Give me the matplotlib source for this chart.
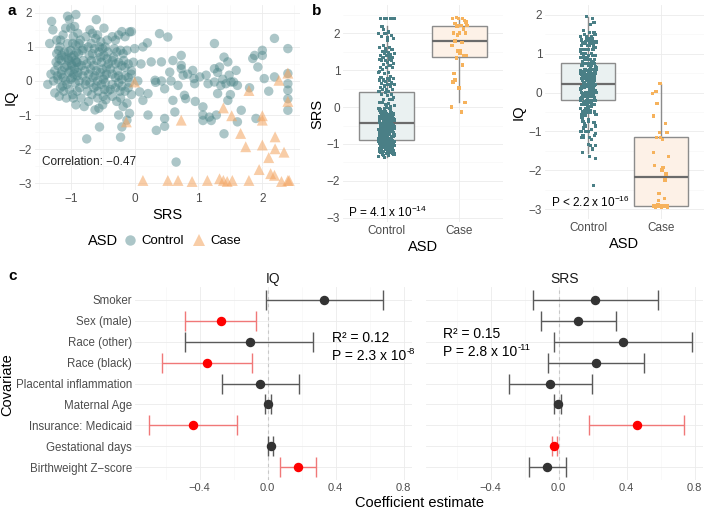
import matplotlib
matplotlib.use("Agg")
import matplotlib.pyplot as plt
import numpy as np
from matplotlib.lines import Line2D
from matplotlib.ticker import MultipleLocator

plt.rcParams['font.family'] = ['Liberation Sans', 'DejaVu Sans']
plt.rcParams['mathtext.fontset'] = 'custom'
plt.rcParams['mathtext.rm'] = 'Liberation Sans'
plt.rcParams['mathtext.it'] = 'Liberation Sans:italic'
plt.rcParams['mathtext.bf'] = 'Liberation Sans:bold'

# ---------------- data ----------------
# control subjects (SRS, IQ)
control_low = [(-1.33,1.1),(-1.3,1.75),(-1.28,1.5),(-1.25,0.3),(-1.25,-0.35),(-1.22,1.2),(-1.22,0.8),(-1.2,0.45),
    (-1.2,0.05),(-1.18,-0.45),(-1.17,1.0),(-1.15,0.6),(-1.15,0.2),(-1.13,-0.15),(-1.12,1.35),(-1.1,0.85),(-1.1,0.4),
    (-1.08,0.0),(-1.07,-0.5),(-1.05,1.9),(-1.05,1.1),(-1.04,0.65),(-1.03,0.25),(-1.02,-0.25),(-1.0,1.55),(-1.0,0.9),
    (-0.99,0.5),(-0.98,0.1),(-0.97,-0.4),(-0.96,1.3),(-0.95,0.75),(-0.94,0.35),(-0.93,-0.05),(-0.92,1.95),(-0.92,1.05),
    (-0.91,0.55),(-0.9,0.15),(-0.9,-0.3),(-0.89,1.4),(-0.88,0.8),(-0.88,0.4),(-0.87,0.0),(-1.27,0.0),(-1.23,0.55),
    (-1.19,0.9),(-1.16,1.2),(-1.14,0.3),(-1.11,-0.3),(-1.09,0.7),(-1.06,0.45),(-1.04,0.85),(-1.01,0.3),(-0.99,0.7),
    (-0.97,1.1),(-0.95,0.2),(-0.93,0.6),(-0.91,0.85),(-0.89,0.25),(-1.02,1.8),(-0.96,-0.5),(-1.21,0.15),(-1.16,-0.2),
    (-1.31,0.2),(-1.18,0.65),(-1.08,1.55),(-0.94,1.6),(-1.06,-0.1),(-0.98,0.45),(-1.12,0.1),(-1.0,0.05),(-0.9,0.55),
    (-1.03,0.6),(-0.92,-0.7),(-1.14,0.75),(-0.87,1.1),(-1.36,-0.1),(-0.75,-1.7)]
control_mid = [(-0.85,1.2),(-0.82,0.9),(-0.8,0.6),(-0.78,0.3),(-0.76,0.0),(-0.74,-0.3),(-0.72,-0.6),(-0.7,1.5),
    (-0.68,1.1),(-0.66,0.8),(-0.64,0.45),(-0.62,0.15),(-0.6,-0.15),(-0.58,-0.5),(-0.56,-0.8),(-0.6,1.8),(-0.58,1.35),
    (-0.55,1.0),(-0.53,0.7),(-0.51,0.35),(-0.49,0.05),(-0.47,-0.25),(-0.45,-0.55),(-0.43,1.2),(-0.42,0.85),(-0.41,0.5),
    (-0.44,0.2),(-0.46,-0.05),(-0.48,1.55),(-0.5,0.95),(-0.52,0.55),(-0.54,0.25),(-0.57,-0.3),(-0.59,0.6),(-0.61,1.25),
    (-0.63,0.95),(-0.65,0.1),(-0.67,-0.4),(-0.69,0.35),(-0.71,0.75),(-0.73,1.0),(-0.75,0.5),(-0.77,-0.1),(-0.79,-0.75),
    (-0.81,0.15),(-0.83,0.45),(-0.86,-0.2),(-0.55,-1.35),(-0.62,-0.85),(-0.48,0.75),(-0.44,0.4),(-0.5,-0.7),(-0.66,1.4),
    (-0.58,0.0),(-0.53,1.15),(-0.47,0.15),(-0.72,0.2),(-0.64,-0.2),(-0.56,0.85),(-0.42,-0.3),(-0.46,1.0),(-0.68,0.6),
    (-0.8,0.95),(-0.84,-0.5),(-0.6,0.3),(-0.52,-0.1),(-0.7,-0.05),(-0.76,1.3),(-0.43,0.65),(-0.49,-0.45)]
control_near = [(-0.35,1.3),(-0.3,1.2),(-0.25,1.35),(-0.2,1.45),(-0.15,1.3),(-0.32,0.95),(-0.28,0.85),(-0.22,0.9),
    (-0.18,0.8),(-0.12,0.9),(-0.05,1.45),(-0.35,0.6),(-0.3,0.5),(-0.25,0.55),(-0.2,0.45),(-0.15,0.4),(-0.1,0.5),
    (-0.05,0.3),(-0.35,0.2),(-0.3,0.1),(-0.25,0.15),(-0.2,0.05),(-0.15,0.15),(-0.1,0.1),(-0.05,0.2),(-0.35,-0.1),
    (-0.3,-0.2),(-0.25,-0.05),(-0.2,-0.15),(-0.15,-0.3),(-0.1,-0.2),(-0.05,-0.4),(-0.35,-0.45),(-0.28,-0.6),
    (-0.22,-0.5),(-0.18,-0.75),(-0.12,-0.65),(-0.08,-0.95),(-0.25,-1.0),(-0.2,-1.35),(-0.22,-1.65),(-0.12,-1.15),
    (-0.38,0.35),(-0.38,-0.25),(-0.33,0.7),(-0.27,0.3),(-0.23,-0.3),(-0.17,0.6),(-0.02,0.55),(-0.08,-0.05)]
control_high = [(0.0,0.95),(-0.08,1.44),(0.05,0.0),(0.1,0.5),(0.13,1.0),(0.2,1.12),(0.08,-0.32),(0.13,-0.57),
    (0.21,-0.37),(0.21,-1.0),(0.26,0.56),(0.32,0.02),(0.33,-0.04),(0.34,-1.45),(0.39,1.39),(0.42,0.56),(0.42,0.0),
    (0.47,-0.23),(0.47,-1.1),(0.47,-1.33),(0.52,1.29),(0.55,0.26),(0.57,0.0),(0.6,-0.57),(0.6,0.6),(0.63,-0.91),
    (0.65,-2.38),(0.68,-0.13),(0.73,0.46),(0.73,0.36),(0.73,0.75),(0.76,0.17),(0.78,-0.42),(0.8,-0.52),(0.83,0.2),
    (0.91,0.31),(0.93,0.07),(0.94,-0.08),(1.02,0.12),(1.07,-0.76),(1.07,-1.0),(1.07,-1.16),(1.12,0.17),(1.15,-0.08),
    (1.17,-1.06),(1.2,-1.16),(1.25,1.1),(1.25,0.36),(1.25,-0.03),(1.28,-1.0),(1.3,-0.37),(1.33,0.41),(1.35,-0.13),
    (1.4,0.7),(1.4,-1.55),(1.43,-0.08),(1.46,0.56),(1.46,-0.57),(1.48,0.17),(1.51,-0.03),(1.55,-0.03),(1.59,0.31),
    (1.61,-0.13),(1.61,-1.2),(1.67,-0.86),(1.85,0.66),(1.88,0.75),(1.9,-1.1),(1.93,0.41),(2.0,0.75),(2.0,0.9),
    (2.03,0.07),(2.19,1.25),(2.4,0.95),(2.4,0.22),(2.4,-0.08),(2.4,-0.27),(2.4,-0.52),(2.4,-0.86),(1.8,-0.2),
    (2.19,0.12),(1.3,0.25),(1.5,-0.4),(0.95,-0.6),(1.38,0.05),(2.1,-0.3)]
control_points = control_low + control_mid + control_near + control_high

# ASD cases (SRS, IQ)
case_points = [(0.0,-0.03),(-0.13,-1.2),(0.73,-1.15),(0.13,-2.92),(0.52,-2.92),(0.68,-2.92),(1.14,-2.92),
    (1.33,-2.87),(1.39,-2.92),(1.53,-2.92),(1.79,-2.92),(1.39,-0.79),(1.52,-1.02),(1.66,-1.54),(1.74,-1.93),
    (1.79,-0.28),(2.0,-1.02),(2.0,-1.15),(2.0,-1.88),(2.13,-2.72),(2.19,-2.77),(2.2,-1.64),(2.2,-1.99),
    (2.26,0.02),(2.34,-2.09),(2.4,0.23),(2.4,-0.6),(2.4,-2.92),(2.42,-2.92),(2.3,-2.95),(1.45,-2.95),
    (0.9,-2.95),(2.1,-2.25),(1.95,-2.6)]

covariates = ["Smoker", "Sex (male)", "Race (other)", "Race (black)", "Placental inflammation",
              "Maternal Age", "Insurance: Medicaid", "Gestational days", "Birthweight Z\u2212score"]
iq_est = [0.333, -0.276, -0.105, -0.358, -0.042, 0.004, -0.438, 0.019, 0.180]
iq_lo  = [-0.010, -0.484, -0.484, -0.620, -0.270, -0.015, -0.700, 0.000, 0.076]
iq_hi  = [0.680, -0.067, 0.270, -0.090, 0.187, 0.020, -0.177, 0.030, 0.286]
iq_sig = [0, 1, 0, 1, 0, 0, 1, 0, 1]
srs_est = [0.216, 0.116, 0.380, 0.220, -0.050, -0.006, 0.460, -0.024, -0.066]
srs_lo  = [-0.150, -0.104, -0.024, -0.060, -0.290, -0.026, 0.180, -0.036, -0.176]
srs_hi  = [0.586, 0.340, 0.784, 0.504, 0.196, 0.014, 0.740, -0.010, 0.046]
srs_sig = [0, 0, 0, 0, 0, 0, 1, 1, 0]

ctrl_srs = np.array([p[0] for p in control_points])
ctrl_iq = np.array([p[1] for p in control_points])
case_srs = np.array([p[0] for p in case_points])
case_iq = np.array([p[1] for p in case_points])

# ---------------- style ----------------
W, H = 706, 514
fig = plt.figure(figsize=(W/100, H/100), dpi=100)
fig.patch.set_facecolor('white')

def box(l, t, r, b):
    return [l/W, 1-b/H, (r-l)/W, (b-t)/H]

TEAL = '#4F878A'
ORANGE = '#F4A460'
STRIP_TEAL = '#4A7F86'
STRIP_OR = '#F6B25C'
TICKC = '#4D4D4D'
GRID = '#EBEBEB'
GRIDMIN = '#F6F6F6'

def minimal(ax, tick_size=8.5):
    for s in ax.spines.values():
        s.set_visible(False)
    ax.tick_params(which='both', length=0, labelsize=tick_size, labelcolor=TICKC, pad=2)
    ax.grid(True, which='major', color=GRID, lw=0.6)
    ax.grid(True, which='minor', color=GRIDMIN, lw=0.4)
    ax.set_axisbelow(True)

# ---------------- panel a ----------------
ax_a = fig.add_axes(box(35, 5, 300, 190))
ax_a.scatter(ctrl_srs, ctrl_iq, s=46, color=TEAL, alpha=0.47, edgecolors='none', marker='o')
ax_a.scatter(case_srs, case_iq, s=62, color=ORANGE, alpha=0.55, edgecolors='none', marker='^')
ax_a.set_xlim(-1.56, 2.59)
ax_a.set_ylim(-3.2, 2.23)
ax_a.set_xticks([-1, 0, 1, 2])
ax_a.set_yticks([-3, -2, -1, 0, 1, 2])
ax_a.set_xticklabels(['\u22121', '0', '1', '2'])
ax_a.set_yticklabels(['\u22123', '\u22122', '\u22121', '0', '1', '2'])
ax_a.xaxis.set_minor_locator(MultipleLocator(0.5))
ax_a.yaxis.set_minor_locator(MultipleLocator(0.5))
minimal(ax_a)
ax_a.set_xlabel('SRS', fontsize=10.5, labelpad=2)
ax_a.set_ylabel('IQ', fontsize=10.5, labelpad=1)
ax_a.text(0.025, 0.15, 'Correlation: \u22120.47', transform=ax_a.transAxes, fontsize=8.5,
          color='#222222', va='center', ha='left')

fig.text(88/W, 1-241/H, 'ASD', fontsize=10.5, va='center', ha='left')
handles = [Line2D([], [], marker='o', ls='', color=TEAL, alpha=0.47, markersize=7.5, markeredgewidth=0),
           Line2D([], [], marker='^', ls='', color=ORANGE, alpha=0.55, markersize=8.5, markeredgewidth=0)]
fig.legend(handles, ['Control', 'Case'], ncol=2, loc='center left', bbox_to_anchor=(122/W, 1-241/H),
           frameon=False, fontsize=9.5, handletextpad=0.25, columnspacing=0.6, handlelength=1.2,
           borderaxespad=0, borderpad=0)

# ---------------- panel b ----------------
def jitter(n, width=0.2):
    idx = np.arange(n)
    return ((idx * 0.6180339887) % 1.0 - 0.5) * width

def strip_box(ax, data, ylim, ylabel):
    bp = ax.boxplot(data, positions=[1, 2], widths=0.75, patch_artist=True, showfliers=False,
                    whis=1.5, showcaps=False,
                    boxprops=dict(edgecolor='#8C8C8C', lw=1.0),
                    whiskerprops=dict(color='#8C8C8C', lw=1.0),
                    medianprops=dict(color='#6B6B6B', lw=1.6), zorder=2)
    bp['boxes'][0].set_facecolor('#EAF1F1')
    bp['boxes'][1].set_facecolor('#FDF1E7')
    ax.scatter(1 + jitter(len(data[0]), 0.22), data[0], s=5, marker='s', color=STRIP_TEAL,
               edgecolors='none', zorder=3)
    ax.scatter(2 + jitter(len(data[1]), 0.22), data[1], s=6, marker='s', color=STRIP_OR,
               edgecolors='none', zorder=3)
    ax.set_xlim(0.4, 2.6)
    ax.set_ylim(*ylim)
    ax.set_xticks([1, 2])
    ax.set_xticklabels(['Control', 'Case'])
    ax.set_yticks([-3, -2, -1, 0, 1, 2])
    ax.set_yticklabels(['\u22123', '\u22122', '\u22121', '0', '1', '2'])
    ax.yaxis.set_minor_locator(MultipleLocator(0.5))
    minimal(ax)
    ax.set_xlabel('ASD', fontsize=10.5, labelpad=2)
    ax.set_ylabel(ylabel, fontsize=10.5, labelpad=2)

ax_b1 = fig.add_axes(box(343, 5, 503, 222))
strip_box(ax_b1, [ctrl_srs, case_srs], (-3.11, 2.76), 'SRS')
ax_b1.text(0.47, -2.86, r'P = 4.1 x 10$^{\mathrm{-14}}$', fontsize=8.5, va='center', ha='left')

ax_b2 = fig.add_axes(box(545, 5, 704, 219))
strip_box(ax_b2, [ctrl_iq, case_iq], (-3.25, 2.25), 'IQ')
ax_b2.text(0.48, -2.83, r'P < 2.2 x 10$^{\mathrm{-16}}$', fontsize=8.5, va='center', ha='left')

# ---------------- panel c ----------------
ypos = np.arange(1, len(covariates) + 1)

def forest(ax, est, lo, hi, sig, title, show_labels):
    est = np.array(est); lo = np.array(lo); hi = np.array(hi); sig = np.array(sig, dtype=bool)
    ax.axvline(0, color='#C8C8C8', lw=0.8, ls=(0, (3, 3)), zorder=1)
    for mask, ecol, pcol in [(~sig, '#5A5A5A', '#333333'), (sig, '#F07878', '#FF0000')]:
        if mask.sum() == 0:
            continue
        ax.errorbar(est[mask], ypos[mask], xerr=[est[mask] - lo[mask], hi[mask] - est[mask]],
                    fmt='none', ecolor=ecol, elinewidth=1.0, capsize=7, capthick=1.0, zorder=2)
        ax.plot(est[mask], ypos[mask], 'o', color=pcol, ms=5.8, zorder=3)
    ax.set_xlim(-0.78, 0.85)
    ax.set_ylim(9.6, 0.4)
    ax.set_xticks([-0.4, 0.0, 0.4, 0.8])
    ax.set_xticklabels(['\u22120.4', '0.0', '0.4', '0.8'])
    ax.xaxis.set_minor_locator(MultipleLocator(0.2))
    ax.set_yticks(ypos)
    if show_labels:
        ax.set_yticklabels(covariates)
    else:
        ax.set_yticklabels([])
    minimal(ax, 8.0)
    ax.tick_params(axis='y', labelsize=8.3)
    ax.set_title(title, fontsize=10, pad=3, color='#1A1A1A')

ax_c1 = fig.add_axes(box(135, 287, 412, 480))
forest(ax_c1, iq_est, iq_lo, iq_hi, iq_sig, 'IQ', True)
ax_c2 = fig.add_axes(box(426, 287, 703, 480))
forest(ax_c2, srs_est, srs_lo, srs_hi, srs_sig, 'SRS', False)

fig.canvas.draw()
renderer = fig.canvas.get_renderer()

def stat_text(x, y_r2, y_p, r2, pbase, pexp):
    fig.text(x/W, 1-y_r2/H, r2, fontsize=10, va='center', ha='left')
    t = fig.text(x/W, 1-y_p/H, pbase, fontsize=10, va='center', ha='left')
    bb = t.get_window_extent(renderer)
    fig.text((bb.x1 + 0.5)/W, 1-(y_p - 5)/H, pexp, fontsize=6.8, va='center', ha='left')

stat_text(332, 338, 356, 'R\u00b2 = 0.12', 'P = 2.3 x 10', '-8')
stat_text(443, 334, 352, 'R\u00b2 = 0.15', 'P = 2.8 x 10', '-11')

fig.text(7/W, 1-385/H, 'Covariate', fontsize=10.5, rotation=90, va='center', ha='center')
fig.text(420/W, 1-503/H, 'Coefficient estimate', fontsize=10.5, va='center', ha='center')

# panel letters
fig.text(8/W, 1-11/H, 'a', fontsize=11, fontweight='bold', va='center', ha='left')
fig.text(312/W, 1-11/H, 'b', fontsize=11, fontweight='bold', va='center', ha='left')
fig.text(8/W, 1-276/H, 'c', fontsize=11, fontweight='bold', va='center', ha='left')

fig.savefig('out.png', dpi=100, facecolor='white')
